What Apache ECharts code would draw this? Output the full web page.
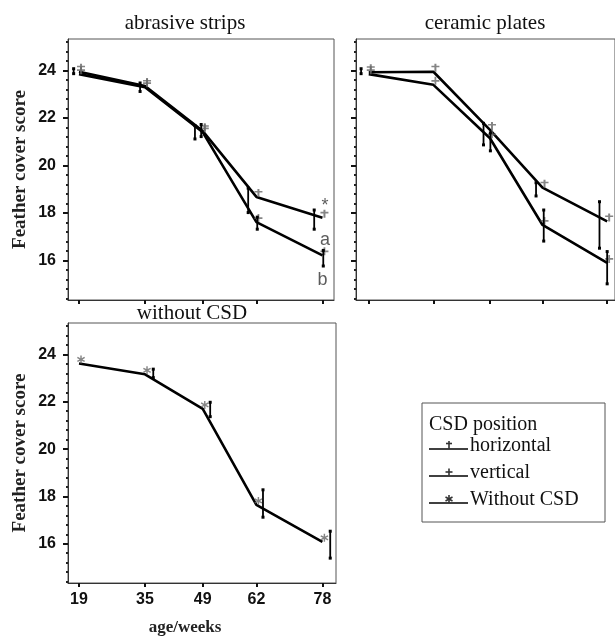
<!DOCTYPE html>
<html><head><meta charset="utf-8">
<script src="https://cdn.jsdelivr.net/npm/echarts@6/dist/echarts.min.js"></script>
<style>html,body{margin:0;padding:0;background:#fff}#c{width:615px;height:637px}</style>
</head><body><div id="c"></div>
<script>
// ---------- data ----------
const weeks = [19, 35, 49, 62, 78];
const yTicks = [16, 18, 20, 22, 24];
const panelTitles = ['abrasive strips', 'ceramic plates', 'without CSD'];
const seriesNames = ['horizontal', 'vertical', 'Without CSD'];

const abrasiveHorizontal = [23.95, 23.35, 21.45, 18.68, 17.8];
const abrasiveVertical   = [23.85, 23.3, 21.4, 17.62, 16.22];
const ceramicHorizontal  = [23.93, 23.95, 21.5, 19.07, 17.65];
const ceramicVertical    = [23.85, 23.4, 21.15, 17.5, 15.9];
const withoutCSD         = [23.62, 23.16, 21.7, 17.64, 16.08];

// error bars: [week, low, high]
const abrasiveBars = [[17.7, 23.85, 24.1], [33.8, 23.1, 23.5], [47.1, 21.1, 21.7], [48.6, 21.2, 21.75],
                      [60.0, 18.0, 19.07], [62.2, 17.3, 17.85], [76.0, 17.3, 18.15], [78.2, 15.75, 16.45]];
const ceramicBars  = [[17.1, 23.85, 24.1], [47.4, 20.85, 21.8], [49.1, 20.6, 21.4], [60.4, 18.7, 19.3],
                      [62.3, 16.8, 18.15], [76.1, 16.5, 18.5], [78.0, 15.0, 16.4]];
const withoutBars  = [[37.0, 23.0, 23.4], [50.8, 21.35, 22.0], [63.6, 17.1, 18.3], [79.9, 15.37, 16.55]];

// significance annotations in abrasive strips panel: [week, score, text]
const annotations = [[78.6, 18.3, '*'], [78.6, 16.88, 'a'], [78.0, 15.16, 'b']];

// ---------- styles ----------
const SERIF = 'Liberation Serif';
const SANS = 'Liberation Sans';
const YMIN = 14.34, YMAX = 25.33;
const PLUS = 'M3.5,0h2v3.5h3.5v2h-3.5v3.5h-2v-3.5h-3.5v-2h3.5z';
const DAGGER = 'M3.5,0h2v2.5h3v2h-3v5.5h-2v-5.5h-3v-2h3z';
const STAR = 'M4,0h1.6v3.2l2.8-1.6 0.8,1.4-2.8,1.6 2.8,1.6-0.8,1.4-2.8-1.6V9.2H4V6l-2.8,1.6-0.8-1.4 2.8-1.6-2.8-1.6 0.8-1.4 2.8,1.6z';
const markerPaths = [DAGGER, PLUS, STAR];

const minorVals = [];
for (let v = 14.4; v < 25.3; v += 0.4) {
  const r = Math.round(v * 10) / 10;
  if (Math.abs(r / 2 - Math.round(r / 2)) > 1e-6) minorVals.push(r);
}

const grids = [
  {left: 68, top: 39, width: 266, height: 261, xmin: 16.33, xmax: 80.8},
  {left: 356, top: 39, width: 264, height: 261, xmin: 15.84, xmax: 79.94},
  {left: 68, top: 323, width: 268, height: 261, xmin: 16.33, xmax: 81.3}
];

const option = {
  animation: false,
  backgroundColor: '#fff',
  grid: grids.map(g => ({left: g.left, top: g.top, width: g.width, height: g.height,
    show: true, borderColor: '#555', borderWidth: 1, backgroundColor: 'transparent'})),
  xAxis: grids.map((g, i) => ({
    type: 'value', gridIndex: i, min: g.xmin, max: g.xmax,
    name: i === 2 ? 'age/weeks' : '', nameLocation: 'middle', nameGap: 36,
    nameTextStyle: {fontFamily: SERIF, fontWeight: 'bold', fontSize: 17, color: '#222', padding: [0, 34, 0, 0]},
    axisLine: {show: true, onZero: false, lineStyle: {color: '#333', width: 1}},
    axisTick: {show: true, customValues: weeks, length: 4, lineStyle: {color: '#111', width: 2}},
    axisLabel: {show: i === 2, customValues: weeks, margin: 9, fontFamily: SANS, fontWeight: 'bold', fontSize: 16, color: '#111'},
    splitLine: {show: false}
  })),
  yAxis: grids.map((g, i) => ({
    type: 'value', gridIndex: i, min: YMIN, max: YMAX, position: 'left',
    name: i === 1 ? '' : 'Feather cover score', nameLocation: 'middle', nameGap: 38,
    nameTextStyle: {fontFamily: SERIF, fontWeight: 'bold', fontSize: 19, color: '#222'},
    axisLine: {show: true, lineStyle: {color: '#333', width: 1}},
    axisTick: {show: true, customValues: yTicks, length: 5, lineStyle: {color: '#111', width: 2}},
    axisLabel: {show: i !== 1, customValues: yTicks, margin: 12, fontFamily: SANS, fontWeight: 'bold', fontSize: 16, color: '#111'},
    splitLine: {show: false}
  })).concat(grids.map((g, i) => ({
    type: 'value', gridIndex: i, min: YMIN, max: YMAX, position: 'left',
    axisLine: {show: false},
    axisTick: {show: true, customValues: minorVals, length: 2, lineStyle: {color: '#222', width: 2}},
    axisLabel: {show: false}, splitLine: {show: false}
  }))),
  title: [
    {text: panelTitles[0], left: 180, top: 8, textAlign: 'center'},
    {text: panelTitles[1], left: 480, top: 8, textAlign: 'center'},
    {text: panelTitles[2], left: 187, top: 298, textAlign: 'center'}
  ].map(t => Object.assign(t, {textStyle: {fontFamily: SERIF, fontWeight: 'normal', fontSize: 21, color: '#111'}})),
  series: []
};

function addPanel(idx, lines, bars) {
  lines.forEach((vals, k) => {
    const data = weeks.map((w, j) => [w, vals[j]]);
    option.series.push({type: 'line', xAxisIndex: idx, yAxisIndex: idx, data: data,
      showSymbol: false, lineStyle: {color: '#000', width: 2.6}, z: 3});
    option.series.push({type: 'scatter', xAxisIndex: idx, yAxisIndex: idx, data: data,
      symbol: 'path://' + markerPaths[lines.kinds[k]], symbolSize: 8, symbolOffset: [2, -4],
      itemStyle: {color: '#666'}, z: 4});
  });
  option.series.push({type: 'custom', xAxisIndex: idx, yAxisIndex: idx, data: bars, z: 5,
    renderItem: function (params, api) {
      const p1 = api.coord([api.value(0), api.value(1)]);
      const p2 = api.coord([api.value(0), api.value(2)]);
      return {type: 'group', children: [
        {type: 'line', shape: {x1: p1[0], y1: p1[1], x2: p2[0], y2: p2[1]}, style: {stroke: '#000', lineWidth: 1.8}},
        {type: 'rect', shape: {x: p1[0] - 1.5, y: p1[1] - 2, width: 3, height: 3}, style: {fill: '#000'}},
        {type: 'rect', shape: {x: p2[0] - 1.5, y: p2[1] - 1, width: 3, height: 3}, style: {fill: '#000'}}
      ]};
    }});
}
const p0 = [abrasiveHorizontal, abrasiveVertical]; p0.kinds = [0, 1];
const p1 = [ceramicHorizontal, ceramicVertical]; p1.kinds = [0, 1];
const p2 = [withoutCSD]; p2.kinds = [2];
addPanel(0, p0, abrasiveBars);
addPanel(1, p1, ceramicBars);
addPanel(2, p2, withoutBars);

option.series.push({type: 'scatter', xAxisIndex: 0, yAxisIndex: 0, symbolSize: 0, z: 6,
  data: annotations.map(a => ({value: [a[0], a[1]], name: a[2]})),
  label: {show: true, position: 'inside', formatter: p => p.name, fontFamily: SANS, fontSize: 18, color: '#333'}});

// legend box
const lx = 422, ly = 403;
const LFONT = '20px ' + SERIF;
const legendChildren = [
  {type: 'rect', shape: {x: lx, y: ly, width: 183, height: 119}, style: {fill: '#fff', stroke: '#555', lineWidth: 1}},
  {type: 'text', style: {x: lx + 7, y: ly + 22, text: 'CSD position', font: LFONT, fill: '#111', textVerticalAlign: 'middle'}}
];
function markerLines(k, cx, cy) {
  const st = {stroke: '#333', lineWidth: 1.6};
  const out = [];
  if (k === 0) {
    out.push({type: 'line', shape: {x1: cx, y1: cy - 4, x2: cx, y2: cy + 4}, style: st});
    out.push({type: 'line', shape: {x1: cx - 3, y1: cy - 1.5, x2: cx + 3, y2: cy - 1.5}, style: st});
  } else if (k === 1) {
    out.push({type: 'line', shape: {x1: cx, y1: cy - 3.5, x2: cx, y2: cy + 3.5}, style: st});
    out.push({type: 'line', shape: {x1: cx - 3.5, y1: cy, x2: cx + 3.5, y2: cy}, style: st});
  } else {
    out.push({type: 'line', shape: {x1: cx, y1: cy - 4, x2: cx, y2: cy + 4}, style: st});
    out.push({type: 'line', shape: {x1: cx - 3.5, y1: cy - 2, x2: cx + 3.5, y2: cy + 2}, style: st});
    out.push({type: 'line', shape: {x1: cx - 3.5, y1: cy + 2, x2: cx + 3.5, y2: cy - 2}, style: st});
  }
  return out;
}
seriesNames.forEach((n, k) => {
  const yy = ly + 46 + k * 27;
  legendChildren.push({type: 'line', shape: {x1: lx + 7, y1: yy, x2: lx + 46, y2: yy}, style: {stroke: '#000', lineWidth: 1.3}});
  markerLines(k, lx + 27, yy - 4).forEach(m => legendChildren.push(m));
  legendChildren.push({type: 'text', style: {x: lx + 48, y: yy - 3, text: n, font: LFONT, fill: '#111', textVerticalAlign: 'middle'}});
});
option.graphic = [{type: 'group', children: legendChildren}];

const chart = echarts.init(document.getElementById('c'), null, {renderer: 'canvas'});
chart.setOption(option);
</script></body></html>
